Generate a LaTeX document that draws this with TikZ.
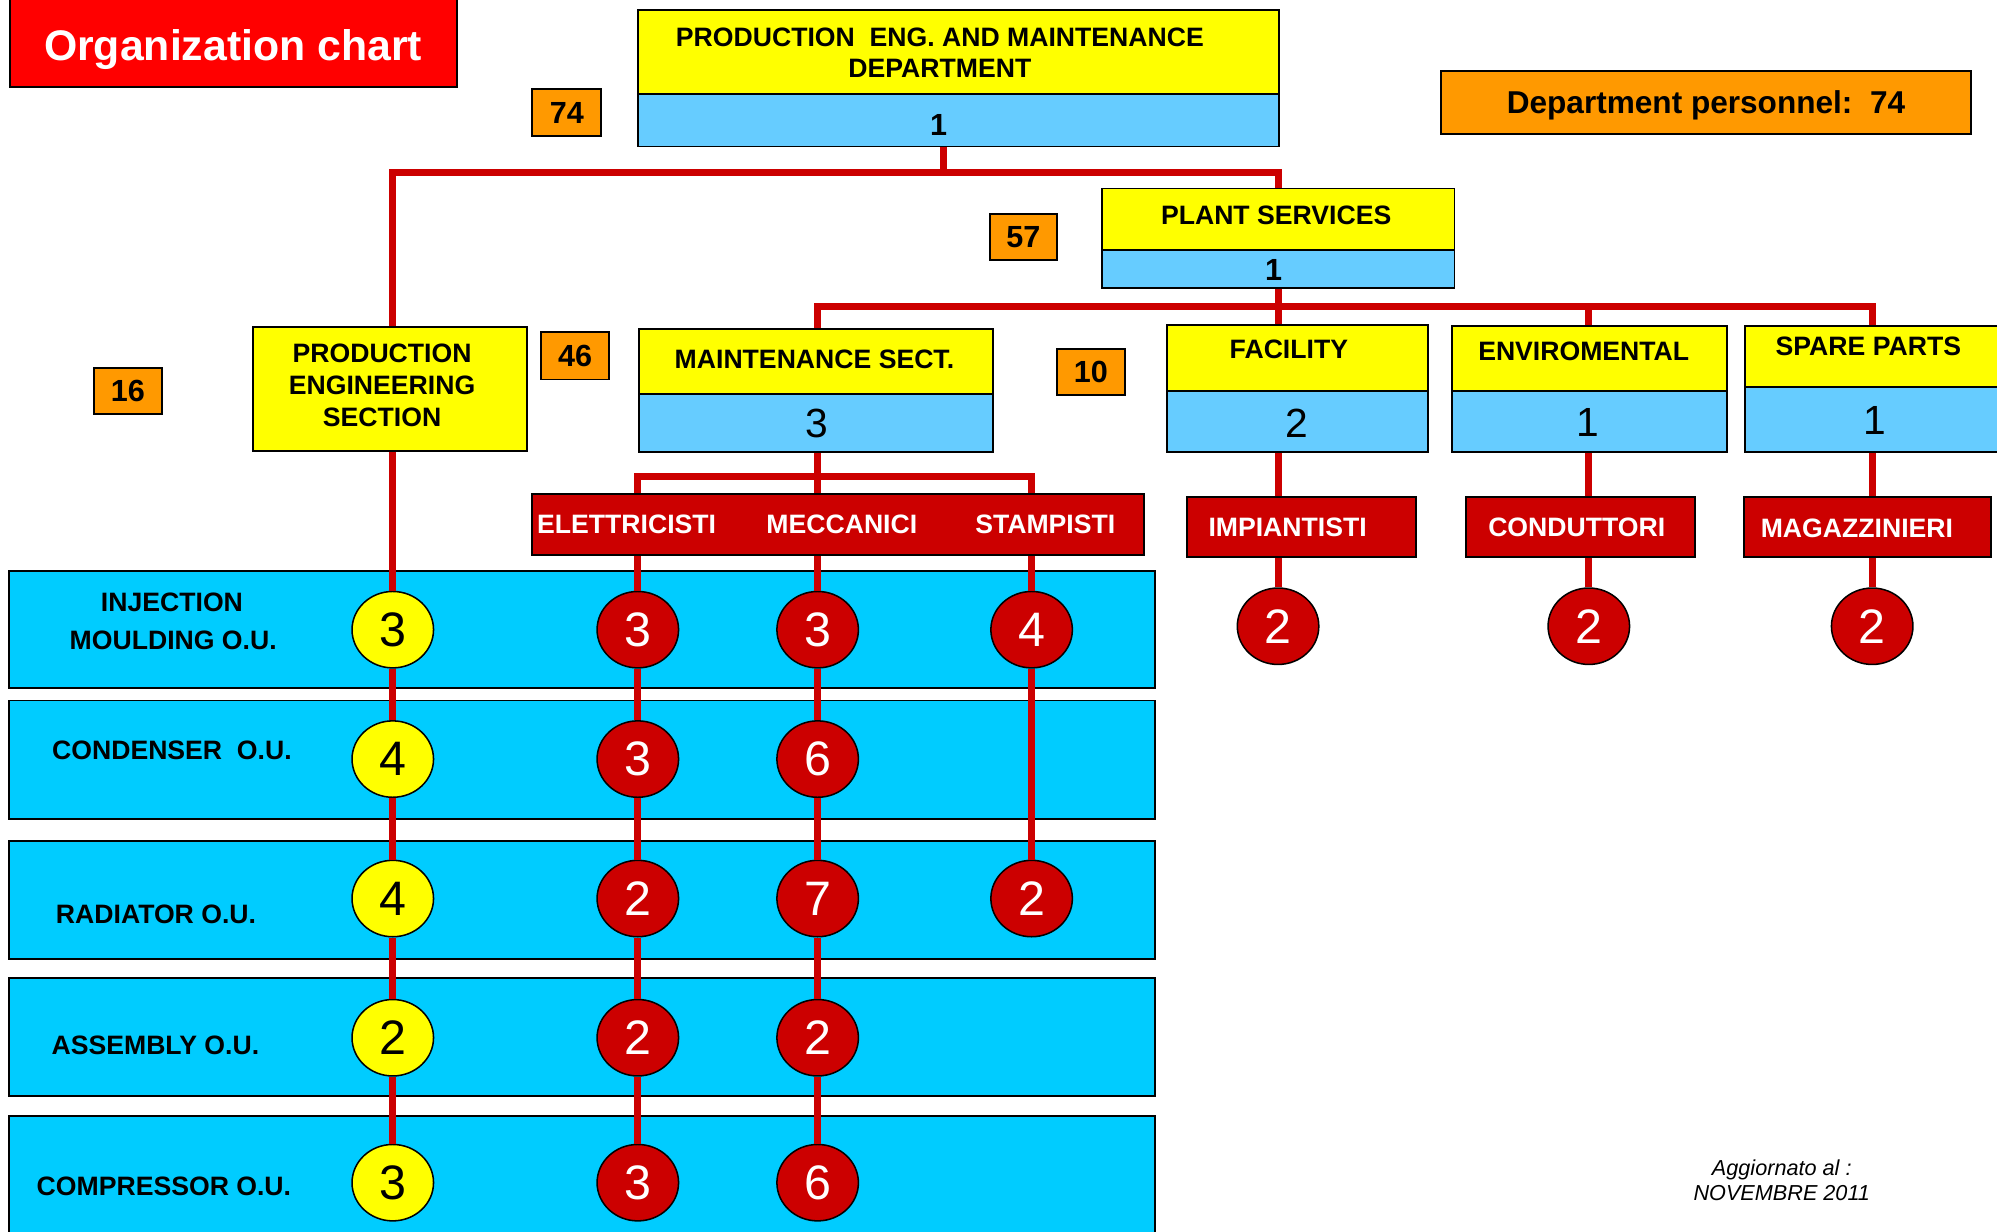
\documentclass[tikz,border=0pt]{standalone}
\usepackage{fontspec}
\setmainfont{Liberation Sans}
\usetikzlibrary{shapes.geometric}
\definecolor{cyel}{HTML}{FFFF00}
\definecolor{clblue}{HTML}{66CCFF}
\definecolor{cband}{HTML}{00CCFF}
\definecolor{corange}{HTML}{FF9900}
\definecolor{cline}{HTML}{CC0000}
\definecolor{ctitle}{HTML}{FF0000}
\definecolor{cdred}{HTML}{CC0000}
\begin{document}
\begin{tikzpicture}[x=1pt,y=-1pt,
 sz/.style 2 args={minimum width=#1pt,minimum height=#2pt},
 boxbase/.style={draw=black, line width=1.5pt, inner sep=0pt, rectangle},
 ybox/.style={boxbase, fill=cyel},
 bbox/.style={boxbase, fill=clblue},
 obox/.style={boxbase, fill=corange, text depth=0pt, font=\fontsize{24}{28}\selectfont\bfseries},
 rbox/.style={boxbase, fill=cdred},
 titlebox/.style={boxbase, fill=ctitle},
 bandbox/.style={boxbase, fill=cband},
 lbl/.style={inner sep=0pt, text depth=0pt, font=\fontsize{20.9}{24}\selectfont\bfseries},
 wlbl/.style={lbl, text=white},
 bnum/.style={inner sep=0pt, text depth=0pt, font=\fontsize{24}{28}\selectfont\bfseries},
 cnt/.style={inner sep=0pt, text depth=0pt, font=\fontsize{32}{36}\selectfont},
 ycirc/.style={ellipse, draw=black, line width=1.2pt, fill=cyel, minimum width=64pt, minimum height=60pt, inner sep=0pt, text depth=0pt, font=\fontsize{38}{40}\selectfont},
 rcirc/.style={ycirc, fill=cdred, text=white},
 conn/.style={draw=cline, line width=5.5pt},
 upd/.style={inner sep=0pt, text depth=0pt, font=\fontsize{17}{20}\selectfont\itshape},
]
\useasboundingbox (0,0) rectangle (1568,967);
\clip (0,0) rectangle (1568,967);
\fill[white] (0,0) rectangle (1568,967);

% ---- bands
\node[bandbox, sz={900}{92}] (b1) at (457,494) {};
\node[bandbox, sz={900}{93}] (b2) at (457,596.5) {};
\node[bandbox, sz={900}{93}] (b3) at (457,706.5) {};
\node[bandbox, sz={900}{92.5}] (b4) at (457,814.25) {};
\node[bandbox, sz={900}{114}] (b5) at (457,933) {};
\node[lbl] (r1a) at (135,473) {INJECTION};
\node[lbl] (r1b) at (136,503) {MOULDING O.U.};
\node[lbl] (r2) at (135,589) {CONDENSER\ \ O.U.};
\node[lbl] (r3) at (122.5,718) {RADIATOR O.U.};
\node[lbl] (r4) at (122,820.6) {ASSEMBLY O.U.};
\node[lbl] (r5) at (128.7,931.7) {COMPRESSOR O.U.};

% ---- title
\node[titlebox, sz={351}{71}] (title) at (183.5,32.5) {};
\node[lbl, text=white, font=\fontsize{33.6}{36}\selectfont\bfseries] (titletxt) at (183,35) {Organization chart};

% ---- top department
\node[ybox, sz={503}{66}] (pey) at (752.5,41) {};
\node[bbox, sz={503}{41}] (peb) at (752.5,94.5) {};
\node[lbl] (pet1) at (738,29) {PRODUCTION\ \ ENG. AND MAINTENANCE};
\node[lbl] (pet2) at (738,53.6) {DEPARTMENT};
\node[bnum] (pen) at (737,98) {1};
\node[obox, sz={54}{37}] (o74) at (445,88.5) {74};
\node[obox, sz={416}{50}, font=\fontsize{24.8}{28}\selectfont\bfseries] (dept) at (1339.5,80.5) {Department personnel:\ \ 74};

% ---- plant services
\node[obox, sz={53}{36}] (o57) at (803.5,186) {57};
\node[ybox, sz={277}{48}] (psy) at (1003.5,172) {};
\node[bbox, sz={277}{30}] (psb) at (1003.5,211) {};
\node[lbl] (pst) at (1002,169) {PLANT SERVICES};
\node[bnum] (psn) at (1000,212) {1};

% ---- production engineering
\node[obox, sz={53}{36}] (o16) at (100.5,307) {16};
\node[ybox, sz={215}{97}] (pes) at (306.5,305.5) {};
\node[lbl] (pes1) at (300,277.5) {PRODUCTION};
\node[lbl] (pes2) at (300,302.5) {ENGINEERING};
\node[lbl] (pes3) at (300,327.5) {SECTION};

% ---- maintenance
\node[obox, sz={53}{37}] (o46) at (451.5,279.5) {46};
\node[ybox, sz={278}{51}] (msy) at (641,283.5) {};
\node[bbox, sz={278}{46}] (msb) at (641,332) {};
\node[lbl] (mst) at (639.5,282) {MAINTENANCE SECT.};
\node[cnt] (msn) at (641.5,332) {3};

% ---- facility / enviromental / spare parts
\node[obox, sz={53}{36}] (o10) at (856.5,292) {10};
\node[ybox, sz={205}{52}] (fay) at (1018.5,281) {};
\node[bbox, sz={205}{48}] (fab) at (1018.5,331) {};
\node[lbl] (fat) at (1012,274) {FACILITY};
\node[cnt] (fan) at (1018.5,332) {2};
\node[ybox, sz={216}{51}] (eny) at (1248,281.5) {};
\node[bbox, sz={216}{48}] (enb) at (1248,331) {};
\node[lbl] (ent) at (1243.5,275.5) {ENVIROMENTAL};
\node[cnt] (enn) at (1247,332) {1};
\node[ybox, sz={210}{47.6}] (spy) at (1475,279.8) {};
\node[bbox, sz={210}{51.4}] (spb) at (1475,329.3) {};
\node[lbl] (spt) at (1467,272) {SPARE PARTS};
\node[cnt] (spn) at (1472,330) {1};

% ---- red boxes
\node[rbox, sz={480}{48}] (grp) at (658,412) {};
\node[wlbl] (gel) at (492,411.5) {ELETTRICISTI};
\node[wlbl] (gme) at (661,411.5) {MECCANICI};
\node[wlbl] (gst) at (820.7,411.5) {STAMPISTI};
\node[rbox, sz={180}{47.6}] (imp) at (1022,413.8) {};
\node[wlbl] (impt) at (1011,414) {IMPIANTISTI};
\node[rbox, sz={180}{47.6}] (cond) at (1241,413.8) {};
\node[wlbl] (condt) at (1238,414) {CONDUTTORI};
\node[rbox, sz={194}{47.6}] (mag) at (1466,413.8) {};
\node[wlbl] (magt) at (1458,414.6) {MAGAZZINIERI};

% ---- circles
\node[ycirc] (y1) at (308.4,494.4) {3};
\node[ycirc] (y2) at (308.4,596) {4};
\node[ycirc] (y3) at (308.4,705.5) {4};
\node[ycirc] (y4) at (308.4,814.8) {2};
\node[ycirc] (y5) at (308.4,928.6) {3};
\node[rcirc] (e1) at (500.8,494.4) {3};
\node[rcirc] (e2) at (500.8,596) {3};
\node[rcirc] (e3) at (500.8,705.5) {2};
\node[rcirc] (e4) at (500.8,814.8) {2};
\node[rcirc] (e5) at (500.8,928.6) {3};
\node[rcirc] (m1) at (642,494.4) {3};
\node[rcirc] (m2) at (642,596) {6};
\node[rcirc] (m3) at (642,705.5) {7};
\node[rcirc] (m4) at (642,814.8) {2};
\node[rcirc] (m5) at (642,928.6) {6};
\node[rcirc] (s1) at (810,494.4) {4};
\node[rcirc] (s3) at (810,705.5) {2};
\node[rcirc] (f1) at (1003.5,491.7) {2};
\node[rcirc] (g1) at (1247.5,491.7) {2};
\node[rcirc] (h1) at (1470,491.7) {2};

% ---- update note
\node[upd] (upd1) at (1399,917) {Aggiornato al :};
\node[upd] (upd2) at (1399,936.3) {NOVEMBRE 2011};

% ---- connectors
\coordinate (jTop) at (740.8,135.6);
\coordinate (xP) at (308.4,0);
\coordinate (xF) at (1003.5,0);
\coordinate (xM) at (642,0);
\coordinate (xE) at (1247.5,0);
\coordinate (xS) at (1470,0);
\coordinate (xEl) at (500.8,0);
\coordinate (xSt) at (810,0);
\coordinate (jPS) at (1003.5,241);
\coordinate (jE) at (1247.5,241);
\coordinate (jMS) at (642,374);

\draw[conn] (jTop |- peb.south) -- (jTop);
\draw[conn] (xP |- pes.north) |- (jTop) -| (psy.north);
\draw[conn] (psb.south) -- (jPS);
\draw[conn] (xM |- msy.north) |- (jPS) -| (xS |- spy.north);
\draw[conn] (jPS) -- (xF |- fay.north);
\draw[conn] (jE) -- (xE |- eny.north);
\draw[conn] (xM |- msb.south) -- (xM |- grp.north);
\draw[conn] (xEl |- grp.north) |- (jMS) -| (xSt |- grp.north);

\draw[conn] (xP |- pes.south) -- (y1.north);
\draw[conn] (y1.south) -- (y2.north);
\draw[conn] (y2.south) -- (y3.north);
\draw[conn] (y3.south) -- (y4.north);
\draw[conn] (y4.south) -- (y5.north);
\draw[conn] (xEl |- grp.south) -- (e1.north);
\draw[conn] (e1.south) -- (e2.north);
\draw[conn] (e2.south) -- (e3.north);
\draw[conn] (e3.south) -- (e4.north);
\draw[conn] (e4.south) -- (e5.north);
\draw[conn] (xM |- grp.south) -- (m1.north);
\draw[conn] (m1.south) -- (m2.north);
\draw[conn] (m2.south) -- (m3.north);
\draw[conn] (m3.south) -- (m4.north);
\draw[conn] (m4.south) -- (m5.north);
\draw[conn] (xSt |- grp.south) -- (s1.north);
\draw[conn] (s1.south) -- (s3.north);
\draw[conn] (xF |- fab.south) -- (xF |- imp.north);
\draw[conn] (xF |- imp.south) -- (f1.north);
\draw[conn] (xE |- enb.south) -- (xE |- cond.north);
\draw[conn] (xE |- cond.south) -- (g1.north);
\draw[conn] (xS |- spb.south) -- (xS |- mag.north);
\draw[conn] (xS |- mag.south) -- (h1.north);
\end{tikzpicture}
\end{document}
